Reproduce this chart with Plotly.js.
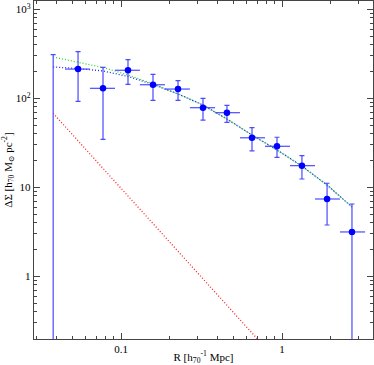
<!DOCTYPE html>
<html><head><meta charset="utf-8">
<script src="https://cdn.plot.ly/plotly-3.0.1.min.js"></script>
<style>html,body{margin:0;padding:0;background:#fff}#c{width:374px;height:365px}</style>
</head><body><div id="c"></div>
<script>
// Radii (h70^-1 Mpc) and bin edges
const R      = [0.0379,0.0541,0.0773,0.1105,0.158,0.226,0.323,0.455,0.651,0.931,1.33,1.905,2.72];
const binLo  = [0.0379,0.0449,0.0641,0.0918,0.131,0.1875,0.268,0.384,0.548,0.784,1.121,1.603,2.29];
const binHi  = [0.0379,0.0641,0.0918,0.131,0.1875,0.268,0.384,0.548,0.784,1.121,1.603,2.29,3.28];
// Delta Sigma measurements and error bounds
const DS     = [0.05,213,129.5,206.5,142,127,78.4,68.9,36.0,28.9,17.5,7.39,3.15];
const DSup   = [309,334,223,272,186,158,100,83.4,46.8,36.5,22.7,11.1,6.49];
const DSlo   = [0.01,92.5,34.6,143.6,95,95,57,53.7,25.6,21.7,12.4,3.77,0.01];
// Model curves
const modelGreen = [291,256,222,183,145,112,84.1,58.5,38.7,26.3,17.3,10.6,6.01];
const modelBlue  = [225,216,203,176,143,112,84.1,58.5,38.7,26.3,17.3,10.6,6.01];
const Rred       = [0.0379,0.0541,0.0773,0.1105,0.158,0.226,0.323,0.455,0.651,0.931];
const modelRed   = [67.8,33.5,16.3,8.0,3.91,1.91,0.935,0.470,0.230,0.113];
// Tick labels
const xTickVals = [0.1,1];
const xTickText = ['0.1','1'];
const yTickVals = [1,10,100,1000];
const yTickText = ['1','10','10<sup>2</sup>','10<sup>3</sup>'];

const minorX = [], minorY = [];
for (let e=-2;e<=0;e++) for (let m=2;m<=9;m++) minorX.push(m*Math.pow(10,e));
for (let e=-1;e<=2;e++) for (let m=2;m<=9;m++) minorY.push(m*Math.pow(10,e));

const traces = [
  {x:R, y:modelGreen, mode:'lines', line:{color:'#22dd22', dash:'1px,2px', width:1.3}, hoverinfo:'skip'},
  {x:R, y:modelBlue, mode:'lines', line:{color:'#2222ff', dash:'1px,2px', width:1.3}, hoverinfo:'skip'},
  {x:Rred, y:modelRed, mode:'lines', line:{color:'#ff2222', dash:'1px,2px', width:1.3}, hoverinfo:'skip'},
  {x:R, y:DS, mode:'markers', marker:{color:'#0000ff', size:6.5, symbol:'circle'},
   error_y:{type:'data', symmetric:false,
     array:DS.map((v,i)=>DSup[i]-v), arrayminus:DS.map((v,i)=>v-DSlo[i]),
     color:'#4a4aff', thickness:1.2, width:2.5},
   error_x:{type:'data', symmetric:false,
     array:R.map((v,i)=>binHi[i]-v), arrayminus:R.map((v,i)=>v-binLo[i]),
     color:'#4a4aff', thickness:1.2, width:0}}
];

const axisFont = {family:'Liberation Serif, DejaVu Serif, serif', size:11, color:'#000'};
const layout = {
  width:374, height:365, showlegend:false,
  margin:{l:34, r:1, t:1, b:26},
  paper_bgcolor:'#fff', plot_bgcolor:'#fff',
  xaxis:{type:'log', range:[-1.5404,0.5652], showgrid:false, zeroline:false,
    showline:true, mirror:'allticks', linecolor:'#444', linewidth:1.2,
    ticks:'inside', ticklen:6, tickcolor:'#444', tickwidth:1,
    tickmode:'array', tickvals:xTickVals, ticktext:xTickText, tickfont:axisFont,
    minor:{tickmode:'array', tickvals:minorX, ticks:'inside', ticklen:3, tickcolor:'#444', tickwidth:1},
    title:{text:'R [h<sub>70</sub><sup>-1</sup> Mpc]', font:axisFont, standoff:4}},
  yaxis:{type:'log', range:[-0.7045,3.0933], showgrid:false, zeroline:false,
    showline:true, mirror:'allticks', linecolor:'#444', linewidth:1.2,
    ticks:'inside', ticklen:6, tickcolor:'#444', tickwidth:1,
    tickmode:'array', tickvals:yTickVals, ticktext:yTickText, tickfont:axisFont,
    minor:{tickmode:'array', tickvals:minorY, ticks:'inside', ticklen:3, tickcolor:'#444', tickwidth:1},
    title:{text:'ΔΣ [h<sub>70</sub> M<sub>⊙</sub> pc<sup>-2</sup>]', font:axisFont, standoff:3}}
};
Plotly.newPlot('c', traces, layout, {displayModeBar:false, staticPlot:true});
</script></body></html>
